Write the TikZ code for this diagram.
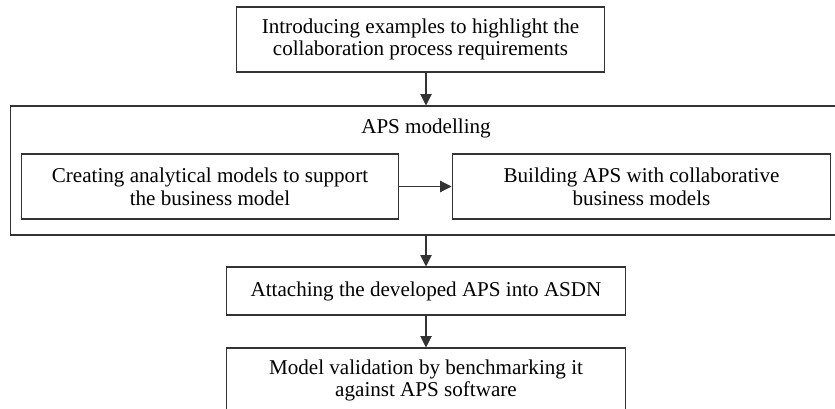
\documentclass[tikz,border=0pt]{standalone}
\usepackage{fontspec}
\setmainfont{Liberation Serif}
\usetikzlibrary{arrows.meta}

\begin{document}
\begin{tikzpicture}[
  x=0.02cm, y=-0.02cm,
  % one step of the method
  stepbox/.style  = {draw=black!80, line width=0.6pt, align=center,
                     inner sep=0pt, font=\fontsize{12}{13}\selectfont},
  % frame round the modelling steps
  groupbox/.style = {draw=black!80, line width=0.6pt, inner sep=0pt},
  % arrow between steps
  flow/.style     = {draw=black!80, line width=0.6pt,
                     -{Triangle[length=6.5pt, width=6.5pt]}},
]

% ─────────────────────
%  Page frame (the figure is cut at right and bottom)
% ─────────────
\useasboundingbox (0,0) rectangle (835,409);
\clip (0,0) rectangle (835,409);

% ═════════════════════
%  Steps
% ═══════════
\node[stepbox, minimum width=7.38cm, minimum height=1.30cm] (intro) at (420.5,39.5)
  {Introducing examples to highlight the\\collaboration process requirements};

\node[groupbox, minimum width=16.64cm, minimum height=2.58cm] (apsbox) at (426,170.5) {};
\node[font=\fontsize{12}{13}\selectfont] (apslabel) at (426,128) {APS modelling};

\node[stepbox, minimum width=7.56cm, minimum height=1.30cm] (create) at (210,186.5)
  {Creating analytical models to support\\the business model};
\node[stepbox, minimum width=7.58cm, minimum height=1.30cm] (build) at (641.5,186.5)
  {Building APS with collaborative\\business models};

\node[stepbox, minimum width=8.00cm, minimum height=0.96cm] (attach) at (426,291)
  {Attaching the developed APS into ASDN};

\node[stepbox, minimum width=8.00cm, minimum height=1.30cm] (validate) at (426,380.5)
  {Model validation by benchmarking it\\against APS software};

% ─────────────────────
%  Flow
% ─────────────
\draw[flow] (apsbox.north |- intro.south) -- (apsbox.north);
\draw[flow] (create.east) -- (build.west);
\draw[flow] (apsbox.south) -- (attach.north);
\draw[flow] (attach.south) -- (validate.north);

\end{tikzpicture}
\end{document}
